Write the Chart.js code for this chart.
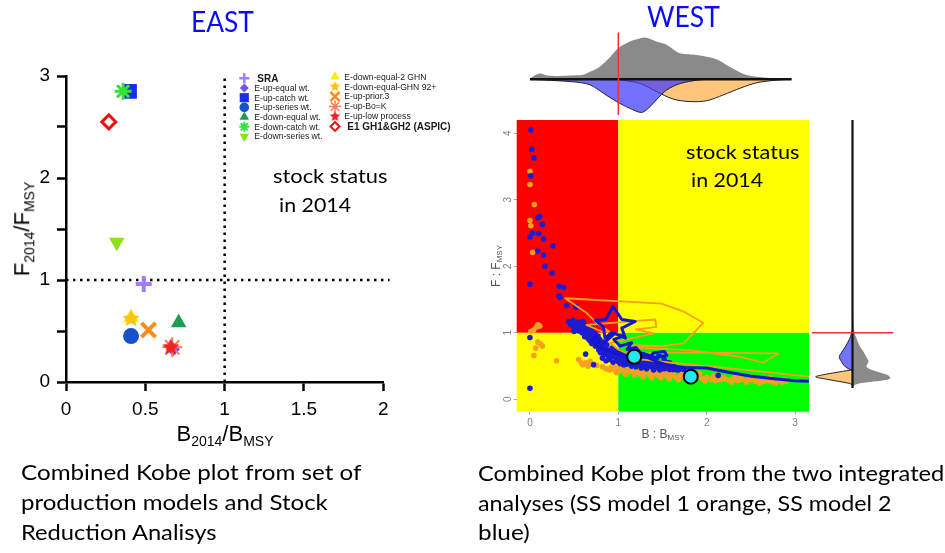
<!DOCTYPE html>
<html>
<head>
<meta charset="utf-8">
<script src="https://cdn.jsdelivr.net/npm/chart.js@4.4.1/dist/chart.umd.min.js"></script>
<style>
  html, body { margin: 0; padding: 0; background: #fff; }
  #stage { position: relative; width: 945px; height: 553px; overflow: hidden; background: #fff; }
  #stage canvas { position: absolute; left: 0; top: 0; }
  .t { position: absolute; left: 0; top: 0; white-space: nowrap; line-height: 1; transform-origin: 0 0; }
  .cal { font-family: "Lato", "Open Sans", sans-serif; color: #000; }
  .ttl { font-family: "Lato", "Open Sans", sans-serif; color: #0a0aff; font-size: 28px; }
  .ax { font-family: "Liberation Sans", Arial, sans-serif; color: #000; font-size: 22px; }
  .ax sub { font-size: 14px; vertical-align: -5px; line-height: 0; }
  .wax { font-family: "Liberation Sans", Arial, sans-serif; color: #555; font-size: 12px; }
  .wax sub { font-size: 8px; vertical-align: -2px; line-height: 0; }
</style>
</head>
<body>
<div id="stage">
  <canvas id="east" width="945" height="553"></canvas>
  <canvas id="westMain" width="945" height="553"></canvas>
  <canvas id="westTop" width="945" height="553"></canvas>
  <canvas id="westSide" width="945" height="553"></canvas>

  <div class="t ttl" data-cx="222" data-base="32" data-w="63">EAST</div>
  <div class="t ttl" data-cx="683" data-base="27" data-w="73">WEST</div>

  <div class="t cal" style="font-size:19px" data-x="273" data-base="183" data-w="114">stock status</div>
  <div class="t cal" style="font-size:19px" data-x="279" data-base="212" data-w="72">in 2014</div>
  <div class="t cal" style="font-size:19px" data-x="686" data-base="159" data-w="113">stock status</div>
  <div class="t cal" style="font-size:19px" data-x="691" data-base="187" data-w="72">in 2014</div>

  <div class="t ax" data-cx="225" data-base="441">B<sub>2014</sub>/B<sub>MSY</sub></div>
  <div class="t ax" data-rot="1" data-cx="22" data-cy="229">F<sub>2014</sub>/F<sub>MSY</sub></div>

  <div class="t wax" data-cx="663" data-base="438">B : B<sub>MSY</sub></div>
  <div class="t wax" data-rot="1" data-cx="496" data-cy="266">F : F<sub>MSY</sub></div>

  <div class="t cal" style="font-size:22px" data-x="21" data-base="480" data-w="341">Combined Kobe plot from set of</div>
  <div class="t cal" style="font-size:22px" data-x="21" data-base="510" data-w="307">production models and Stock</div>
  <div class="t cal" style="font-size:22px" data-x="21" data-base="540" data-w="196">Reduction Analisys</div>
  <div class="t cal" style="font-size:22px" data-x="478" data-base="481" data-w="466">Combined Kobe plot from the two integrated</div>
  <div class="t cal" style="font-size:22px" data-x="478" data-base="511" data-w="414">analyses (SS model 1 orange, SS model 2</div>
  <div class="t cal" style="font-size:22px" data-x="478" data-base="540" data-w="52">blue)</div>
</div>

<script>
// ===================== EAST: production models + SRA =====================
const eastSeries = [
  'SRA', 'E-up-equal wt.', 'E-up-catch wt.', 'E-up-series wt.',
  'E-down-equal wt.', 'E-down-catch wt.', 'E-down-series wt.',
  'E-down-equal-2 GHN', 'E-down-equal-GHN 92+', 'E-up-prior.3',
  'E-up-Bo=K', 'E-up-low process', 'E1 GH1&GH2 (ASPIC)'
];
const eastB = [0.49, 0.675, 0.40, 0.41, 0.71, 0.36, 0.32, 0.41, 0.41, 0.52, 0.67, 0.66, 0.27];
const eastF = [0.96, 0.32, 2.85, 0.45, 0.58, 2.85, 1.37, 0.63, 0.62, 0.51, 0.34, 0.34, 2.55];
const eastXTicks = [0, 0.5, 1, 1.5, 2];
const eastYTicks = [0, 0.5, 1, 1.5, 2, 2.5, 3];
const refValue = 1;

// ===================== WEST: two integrated (SS) models =====================
const westXTicks = [0, 1, 2, 3];
const westYTicks = [0, 1, 2, 3, 4];

// SS model 1 (orange): yearly B/Bmsy, F/Fmsy
const ss1Points = [
  [0.00,3.43],[0.00,3.23],[0.05,2.93],[0.00,2.69],[0.01,2.61],[0.03,2.21],
  [0.09,1.12],[0.07,1.08],[0.11,1.10],[0.01,1.02],[0.04,1.04],[0.12,0.83],
  [0.09,0.86],[0.14,0.80],[0.065,0.77],[0.045,0.66],[0.30,0.58],[0.55,0.60],
  [0.58,0.55],[0.63,0.55],[0.68,0.57],[0.72,0.53],[0.755,0.51],[0.82,0.49],
  [0.60,0.52],[0.66,0.50],
  [0.86,0.46],[0.90,0.44],[0.95,0.45],[1.00,0.42],[1.05,0.44],[1.10,0.41],
  [1.15,0.43],[1.20,0.40],[1.25,0.38],[1.30,0.41],[1.35,0.37],[1.40,0.39],
  [1.45,0.36],[1.50,0.38],[1.55,0.35],[1.60,0.37],[1.65,0.34],[1.70,0.36],
  [1.75,0.33],[1.80,0.36],[1.85,0.32],[1.90,0.34],[1.95,0.31],[2.00,0.33],
  [2.05,0.30],[2.10,0.32],[2.15,0.30],[2.20,0.31],[2.25,0.29],[2.30,0.31],
  [2.35,0.28],[2.40,0.30],[2.45,0.28],[2.50,0.29],[2.55,0.27],[2.60,0.29],
  [2.65,0.27],[2.70,0.28],[2.75,0.26],[2.80,0.28],[2.85,0.26],[2.90,0.27],
  [1.02,0.47],[1.12,0.46],[1.22,0.45],[1.32,0.44],[1.42,0.43],[1.52,0.42],
  [1.62,0.41],[1.72,0.40],[1.92,0.39],[2.12,0.37],[2.32,0.35],[2.52,0.33],
  [2.72,0.32],[1.28,0.34],[1.48,0.32],[1.68,0.30],[1.98,0.28],[2.28,0.26],[2.60,0.25],
  [0.92,0.48],[0.98,0.40],[1.08,0.38],[1.18,0.37],[1.27,0.42],[1.38,0.41],
  [1.58,0.40],[1.78,0.38],[1.88,0.36],[2.08,0.35],[2.18,0.33],[2.38,0.32],
  [2.48,0.31],[2.68,0.30],[2.88,0.29],[1.38,0.33],[1.58,0.31],[1.78,0.30],
  [2.10,0.28],[2.45,0.26],[2.78,0.25],[0.96,0.49],[1.14,0.48]
];

// SS model 2 (blue): yearly B/Bmsy, F/Fmsy
const ss2Points = [
  [0.01,4.05],[0.02,3.76],[0.045,3.63],[0.01,3.36],[0.09,2.73],[0.11,2.75],
  [0.14,2.63],[0.03,2.50],[0.00,2.44],[0.10,2.49],[0.155,2.41],[0.26,2.31],
  [0.09,2.23],[0.155,2.17],[0.17,2.00],[0.25,1.90],[0.00,1.73],[0.33,1.70],
  [0.385,1.68],[0.33,1.56],[0.34,1.53],[0.415,1.41],[0.52,1.39],[0.00,0.93],
  [0.63,0.68],[0.00,0.165],[2.13,0.36],[0.72,0.52],[0.50,1.02],
  [0.44,1.17],[0.47,1.15],[0.49,1.19],[0.51,1.13],[0.54,1.16],[0.56,1.11],
  [0.58,1.14],[0.60,1.08],[0.61,1.12],[0.57,1.04],[0.63,1.03],[0.65,0.99],
  [0.67,1.05],[0.69,0.96],[0.71,1.00],[0.66,0.91],[0.62,0.94],[0.73,0.92],
  [0.75,0.87],[0.77,0.95],[0.79,0.84],[0.81,0.79],[0.83,0.86],[0.85,0.77],
  [0.87,0.82],[0.89,0.74],[0.91,0.71],[0.93,0.77],[0.95,0.69],[0.97,0.73],
  [0.99,0.66],[1.01,0.71],[1.03,0.63],[1.05,0.69],[1.07,0.61],[1.09,0.66],
  [1.11,0.59],[1.13,0.67],[1.16,0.57],[1.20,0.60],[1.22,0.55],[1.25,0.62],
  [1.28,0.54],[1.31,0.58],[1.33,0.51],[1.36,0.56],[1.38,0.49],[1.42,0.53],
  [1.45,0.48],[1.48,0.51],[1.52,0.46],[1.55,0.50],[1.58,0.45],[1.62,0.48],
  [1.66,0.45],[1.70,0.46],[0.82,0.62],[0.86,0.58],[0.90,0.60],[0.94,0.56],
  [0.98,0.58],[1.02,0.54],[1.06,0.52],[1.10,0.53],[1.15,0.50],[1.20,0.49],
  [1.26,0.47],[1.32,0.46],[1.40,0.44],[1.47,0.44],[0.88,0.66],[0.92,0.64],
  [1.35,0.63],[1.42,0.61],[1.28,0.67],[1.46,0.66],[1.52,0.60],[1.58,0.55],
  [0.80,0.70],[0.84,0.68],[0.78,0.74],[0.70,0.84],[0.74,0.80],[0.68,0.88],
  [1.00,0.62],[1.04,0.58],[1.12,0.62],
  [0.46,1.12],[0.50,1.09],[0.53,1.07],[0.55,1.03],[0.59,1.00],[0.64,0.96],
  [0.68,0.92],[0.72,0.88],[0.76,0.83],[0.80,0.77],[0.84,0.73],[0.88,0.70],
  [0.92,0.67],[0.96,0.64],[1.00,0.57],[1.04,0.55],[1.08,0.57],[1.14,0.55],
  [1.18,0.55],[1.24,0.53],[1.30,0.52],[1.36,0.50],[1.43,0.48],[1.50,0.47],
  [1.56,0.47],[1.62,0.45],[1.68,0.44],[1.74,0.45],[0.60,1.17],[0.65,1.09],
  [0.70,1.07],[0.74,0.98],[0.79,0.90],[0.86,0.74],[1.18,0.68],[1.22,0.64],
  [1.30,0.63],[1.38,0.58],[1.45,0.56],[1.50,0.53],[1.55,0.55],[1.62,0.52]
];

// Trajectories (median path of each model)
const ss1Path = [
  [3.16,0.34],[2.60,0.42],[2.00,0.50],[1.60,0.55],[1.25,0.60],[1.10,0.66],
  [1.40,0.70],[2.00,0.70],[2.81,0.69],[2.64,0.55],[2.38,0.64],[1.80,0.74],
  [1.25,0.77],[1.05,0.82],[1.50,0.80],[1.74,0.84],[1.96,1.15],[1.74,1.32],
  [1.49,1.44],[0.40,1.52],[0.64,1.30],[0.76,1.14],[0.90,1.02],[0.81,1.02],
  [0.64,1.12],[1.42,1.20],[1.43,1.09],[1.20,1.05],[1.40,0.99],[1.10,0.90],
  [0.90,0.85],[1.00,0.75],[1.18,0.64]
];
const ss2Path = [
  [3.16,0.27],[3.00,0.28],[2.76,0.31],[2.49,0.35],[2.23,0.41],[2.00,0.47],
  [1.75,0.48],[1.60,0.50],[1.45,0.56],[1.35,0.62],[1.40,0.70],[1.52,0.72],
  [1.55,0.66],[1.42,0.63],[1.25,0.70],[1.20,0.78],[1.10,0.75],[1.15,0.85],
  [1.02,0.80],[0.95,0.90],[1.05,0.95],[0.92,1.00],[0.85,0.92],[0.83,1.09],
  [0.74,1.19],[0.86,1.20],[0.94,1.40],[1.04,1.20],[1.19,1.17],[1.04,1.07],
  [1.08,0.92],[0.96,0.99],[0.85,0.86],[0.80,0.80],[0.75,0.95],[0.70,0.90],
  [0.78,0.78],[0.95,0.70],[1.05,0.66],[1.18,0.64]
];
// 2014 status of each model
const status2014 = [[1.18,0.64],[1.82,0.34]];

// Marginal densities along B/Bmsy (upper panel)
const bDensAllB = [0,0.03,0.11,0.20,0.30,0.45,0.60,0.68,0.79,0.91,1.00,1.13,1.25,1.32,1.43,1.55,1.70,1.89,2.11,2.26,2.45,2.68,2.96];
const bDensAll  = [0,0.06,0.14,0.09,0.08,0.09,0.11,0.18,0.30,0.54,0.74,0.90,0.98,0.99,0.90,0.82,0.62,0.58,0.48,0.30,0.10,0.04,0];
const bDensSS2B = [0,0.49,0.68,0.83,0.98,1.13,1.26,1.34,1.43,1.55,1.70,1.89,2.00];
const bDensSS2  = [0,-0.06,-0.13,-0.33,-0.53,-0.69,-0.79,-0.69,-0.49,-0.25,-0.10,-0.02,0];
const bDensSS1B = [1.00,1.06,1.25,1.43,1.62,1.81,2.00,2.19,2.38,2.57,2.79,2.96];
const bDensSS1  = [0,-0.02,-0.10,-0.29,-0.47,-0.53,-0.51,-0.37,-0.21,-0.08,-0.02,0];

// Marginal densities along F/Fmsy (side panel)
const fDensAllF = [1.60,1.17,1.00,0.92,0.80,0.72,0.62,0.57,0.49,0.44,0.40,0.36,0.31,0.27,0.24,0.20,0.17];
const fDensAll  = [0,0.02,0.05,0.10,0.18,0.27,0.36,0.40,0.35,0.50,0.70,0.90,0.94,0.58,0.19,0.02,0];
const fDensSS2F = [1.05,0.98,0.90,0.79,0.70,0.64,0.57,0.49,0.43];
const fDensSS2  = [0,-0.03,-0.08,-0.18,-0.28,-0.33,-0.28,-0.18,0];
const fDensSS1F = [0.45,0.44,0.40,0.34,0.30,0.27,0.24,0.22];
const fDensSS1  = [0,-0.05,-0.45,-0.92,-0.62,-0.35,-0.08,0];

// ----------------------------------------------------------------
const pairs = arr => arr.map(([x, y]) => ({ x, y }));
const zip = (xs, ys) => xs.map((x, i) => ({ x, y: ys[i] }));
const tickList = vals => (scale) => { scale.ticks = vals.map(v => ({ value: v })); };

Chart.defaults.font.family = '"Liberation Sans", Arial, sans-serif';

function starImage(r, color) {
  const s = Math.ceil(2 * r + 2);
  const c = document.createElement('canvas');
  c.width = s; c.height = s;
  const g = c.getContext('2d');
  g.beginPath();
  for (let i = 0; i < 10; i++) {
    const a = -Math.PI / 2 + i * Math.PI / 5;
    const rr = (i % 2) ? r * 0.48 : r;
    g.lineTo(s / 2 + rr * Math.cos(a), s / 2 + rr * Math.sin(a));
  }
  g.closePath();
  g.fillStyle = color;
  g.fill();
  return c;
}

// marker look for each east series (same order as eastSeries)
const eastLook = [
  { c: '#a07cff', s: 'cross',    r: 8,    bw: 4, lr: 5,   lbw: 2.5, z: 4 },
  { c: '#6b55ff', s: 'rectRot',  r: 7,    bw: 0, lr: 4.5, z: 9 },
  { c: '#1c2df2', s: 'rect',     r: 10.5, bw: 0, lr: 6.5, z: 8 },
  { c: '#1553c6', s: 'circle',   r: 8,    bw: 0, lr: 4.8, z: 6 },
  { c: '#1a9d4c', s: 'triangle', r: 9,    bw: 0, lr: 5.5, z: 6 },
  { c: '#2fe33a', s: 'star',     r: 8.5,  bw: 3, lr: 5,   lbw: 2, z: 2 },
  { c: '#8de21a', s: 'triangle', r: 9,    bw: 0, lr: 5.5, z: 6, rot: 180 },
  { c: '#f5ee00', s: 'triangle', r: 9,    bw: 0, lr: 5.5, z: 10 },
  { c: '#ffc20e', s: 'star5',    r: 9,    bw: 0, lr: 5.5, z: 3 },
  { c: '#ff8a1c', s: 'crossRot', r: 10,   bw: 4, lr: 6.5, lbw: 2.5, z: 6 },
  { c: '#ff7b52', s: 'star',     r: 10,   bw: 2, lr: 6,   lbw: 1.5, z: 1 },
  { c: '#ee2222', s: 'star5',    r: 9,    bw: 0, lr: 5.5, z: 0 },
  { c: '#ee1111', s: 'rectRot',  r: 7,    bw: 3, lr: 4.5, lbw: 2, z: 5, fill: '#ffffff' }
];
const styleOf = (look, big) => look.s === 'star5'
  ? starImage(big ? look.r : look.lr, look.c) : look.s;

const eastDatasets = eastSeries.map((name, i) => {
  const k = eastLook[i];
  return {
    label: name,
    data: [{ x: eastB[i], y: eastF[i] }],
    order: k.z,
    pointStyle: styleOf(k, true),
    pointRotation: k.rot || 0,
    pointRadius: k.r,
    pointBackgroundColor: k.fill || k.c,
    pointBorderColor: k.c,
    pointBorderWidth: k.bw,
    showLine: false
  };
});
const dotted = { showLine: true, borderColor: '#000', borderWidth: 2.5, borderDash: [2.5, 4.5],
                 pointRadius: 0, fill: false, order: 20, clip: false };
eastDatasets.push(Object.assign({ label: 'ref B', data: [{ x: refValue, y: 0 }, { x: refValue, y: 3 }] }, dotted));
eastDatasets.push(Object.assign({ label: 'ref F', data: [{ x: 0, y: refValue }, { x: 2.04, y: refValue }] }, dotted));

// legend in two columns, drawn with the dataset markers
const eastLegend = {
  id: 'eastLegend',
  afterDraw(chart) {
    const ctx = chart.ctx;
    const cols = [
      { mx: 244.3, tx: 254.3, y0: 78.3, dy: 9.7, from: 0, to: 7 },
      { mx: 335,   tx: 344.3, y0: 76.7, dy: 9.95, from: 7, to: 13 }
    ];
    cols.forEach(col => {
      for (let i = col.from; i < col.to; i++) {
        const k = eastLook[i];
        const y = col.y0 + (i - col.from) * col.dy;
        ctx.save();
        ctx.fillStyle = k.fill || k.c;
        ctx.strokeStyle = k.c;
        ctx.lineWidth = k.lbw || 1;
        Chart.helpers.drawPoint(ctx, {
          pointStyle: styleOf(k, false), rotation: k.rot || 0,
          radius: k.lr, borderWidth: k.lbw || 0
        }, col.mx, y);
        const bold = (i === 0 || i === 12);
        ctx.fillStyle = '#1a1a1a';
        ctx.textBaseline = 'middle';
        ctx.textAlign = 'left';
        ctx.font = bold ? 'bold 10px "Liberation Sans", Arial, sans-serif'
                        : '8.6px "Liberation Sans", Arial, sans-serif';
        ctx.fillText(eastSeries[i], col.tx + (bold ? 3 : 0), y + 0.5);
        ctx.restore();
      }
    });
  }
};

new Chart(document.getElementById('east'), {
  type: 'scatter',
  data: { datasets: eastDatasets },
  options: {
    responsive: false, animation: false, events: [], devicePixelRatio: 1,
    layout: { padding: { left: 26, top: 76, right: 561.7, bottom: 131 } },
    plugins: { legend: { display: false }, tooltip: { enabled: false } },
    scales: {
      x: {
        type: 'linear', min: 0, max: 2,
        afterFit(s) { s.height = 40; },
        afterBuildTicks: tickList(eastXTicks),
        border: { display: true, color: '#000', width: 2.5 },
        grid: { drawOnChartArea: false, drawTicks: true, tickLength: 9, tickWidth: 2.5, tickColor: '#000' },
        ticks: { color: '#000', font: { size: 19 }, padding: 7, maxRotation: 0, autoSkip: false,
                 callback: v => String(v) }
      },
      y: {
        type: 'linear', min: 0, max: 3,
        afterFit(s) { s.width = 40; },
        afterBuildTicks: tickList(eastYTicks),
        border: { display: true, color: '#000', width: 2.5 },
        grid: { drawOnChartArea: false, drawTicks: true, tickLength: 9, tickWidth: 2.5, tickColor: '#000' },
        ticks: { color: '#000', font: { size: 19 }, padding: 7, autoSkip: false,
                 callback: v => Number.isInteger(v) ? String(v) : '' }
      }
    }
  },
  plugins: [eastLegend]
});

// ===================== WEST main Kobe panel =====================
const westX = { min: -0.15, max: 3.158 };
const westY = { min: -0.186, max: 4.2 };

const kobeQuadrants = {
  id: 'kobeQuadrants',
  beforeDatasetsDraw(chart) {
    const { ctx, chartArea: a, scales: { x, y } } = chart;
    const bx = x.getPixelForValue(refValue);
    const fy = y.getPixelForValue(refValue);
    ctx.save();
    ctx.fillStyle = '#ff0000'; ctx.fillRect(a.left, a.top, bx - a.left, fy - a.top);
    ctx.fillStyle = '#ffff00'; ctx.fillRect(bx, a.top, a.right - bx, fy - a.top);
    ctx.fillStyle = '#ffff00'; ctx.fillRect(a.left, fy, bx - a.left, a.bottom - fy);
    ctx.fillStyle = '#00ff00'; ctx.fillRect(bx, fy, a.right - bx, a.bottom - fy);
    ctx.restore();
  }
};

const line = (data, color, w) => ({ data: pairs(data), showLine: true, borderColor: color, borderWidth: w,
  pointRadius: 0, fill: false, tension: 0, borderJoinStyle: 'round', borderCapStyle: 'round' });

new Chart(document.getElementById('westMain'), {
  type: 'scatter',
  data: {
    datasets: [
      { label: '2014', data: pairs(status2014), pointRadius: 7, pointBackgroundColor: '#25e6f0',
        pointBorderColor: '#000', pointBorderWidth: 2, showLine: false },
      Object.assign({ label: 'SS model 2 path' }, line(ss2Path, '#1414d2', 3)),
      Object.assign({ label: 'SS model 1 path' }, line(ss1Path, '#f5a020', 1.8)),
      { label: 'SS model 2', data: pairs(ss2Points), pointRadius: 2.8, pointBackgroundColor: '#1c1cd0',
        pointBorderWidth: 0, showLine: false },
      { label: 'SS model 1', data: pairs(ss1Points), pointRadius: 2.8, pointBackgroundColor: '#f5a020',
        pointBorderWidth: 0, showLine: false }
    ]
  },
  options: {
    responsive: false, animation: false, events: [], devicePixelRatio: 1,
    layout: { padding: { left: 486.7, top: 120, right: 136, bottom: 111.3 } },
    plugins: { legend: { display: false }, tooltip: { enabled: false } },
    scales: {
      x: {
        type: 'linear', min: westX.min, max: westX.max,
        afterFit(s) { s.height = 30; },
        afterBuildTicks: tickList(westXTicks),
        border: { display: false },
        grid: { drawOnChartArea: false, drawTicks: true, tickLength: 3, tickColor: '#aaa' },
        ticks: { color: '#808080', font: { size: 10 }, padding: 3, maxRotation: 0, autoSkip: false }
      },
      y: {
        type: 'linear', min: westY.min, max: westY.max,
        afterFit(s) { s.width = 30; },
        afterBuildTicks: tickList(westYTicks),
        border: { display: false },
        grid: { drawOnChartArea: false, drawTicks: true, tickLength: 3, tickColor: '#aaa' },
        ticks: { color: '#808080', font: { size: 10 }, padding: 3, minRotation: 90, maxRotation: 90,
                 crossAlign: 'center', autoSkip: false }
      }
    }
  },
  plugins: [kobeQuadrants]
});

// ===================== WEST upper marginal (B/Bmsy) =====================
const area = (xs, ys, fillColor, edge) => ({
  data: zip(xs, ys), showLine: true, fill: 'shape', backgroundColor: fillColor,
  borderColor: edge || 'rgba(0,0,0,0)', borderWidth: edge ? 1 : 0, pointRadius: 0, tension: 0.3
});

new Chart(document.getElementById('westTop'), {
  type: 'scatter',
  data: {
    datasets: [
      { label: 'Bmsy', data: [{ x: refValue, y: 1.12 }, { x: refValue, y: -0.85 }], showLine: true,
        borderColor: '#ff2a2a', borderWidth: 1.5, pointRadius: 0 },
      { label: 'base', data: [{ x: 0, y: 0 }, { x: 2.96, y: 0 }], showLine: true,
        borderColor: '#111', borderWidth: 2.5, pointRadius: 0 },
      Object.assign({ label: 'SS model 2' }, area(bDensSS2B, bDensSS2, 'rgba(60,60,255,0.72)', '#222')),
      Object.assign({ label: 'SS model 1' }, area(bDensSS1B, bDensSS1, '#fdc67c', '#222')),
      Object.assign({ label: 'combined' }, area(bDensAllB, bDensAll, '#8a8a8a'))
    ]
  },
  options: {
    responsive: false, animation: false, events: [], devicePixelRatio: 1,
    layout: { padding: { left: 516.7, top: 32.3, right: 136, bottom: 431.7 } },
    plugins: { legend: { display: false }, tooltip: { enabled: false } },
    scales: {
      x: { type: 'linear', min: westX.min, max: westX.max, display: false },
      y: { type: 'linear', min: -1, max: 1.12, display: false }
    }
  }
});

// ===================== WEST side marginal (F/Fmsy) =====================
new Chart(document.getElementById('westSide'), {
  type: 'scatter',
  data: {
    datasets: [
      { label: 'Fmsy', data: [{ x: -1.02, y: refValue }, { x: 1.02, y: refValue }], showLine: true,
        borderColor: '#ff2a2a', borderWidth: 1.5, pointRadius: 0 },
      { label: 'axis', data: [{ x: 0, y: westY.max }, { x: 0, y: 0.17 }], showLine: true,
        borderColor: '#111', borderWidth: 2.2, pointRadius: 0 },
      Object.assign({ label: 'SS model 2' }, area(fDensSS2, fDensSS2F, 'rgba(60,60,255,0.72)', '#222')),
      Object.assign({ label: 'SS model 1' }, area(fDensSS1, fDensSS1F, '#fdc67c', '#222')),
      Object.assign({ label: 'combined' }, area(fDensAll, fDensAllF, '#8a8a8a'))
    ]
  },
  options: {
    responsive: false, animation: false, events: [], devicePixelRatio: 1,
    layout: { padding: { left: 811.7, top: 120, right: 51.7, bottom: 141.3 } },
    plugins: { legend: { display: false }, tooltip: { enabled: false } },
    scales: {
      x: { type: 'linear', min: -1.02, max: 1.02, display: false },
      y: { type: 'linear', min: westY.min, max: westY.max, display: false }
    }
  }
});

// ===================== text placement =====================
function baselineOf(el) {
  const p = document.createElement('span');
  p.style.cssText = 'display:inline-block;width:0;height:0;vertical-align:baseline';
  el.appendChild(p);
  const b = p.offsetTop;
  el.removeChild(p);
  return b;
}
document.querySelectorAll('[data-base]').forEach(el => {
  const w0 = el.offsetWidth;
  const tw = el.dataset.w ? +el.dataset.w : w0;
  const b = baselineOf(el);
  el.style.top = (+el.dataset.base - b) + 'px';
  const left = el.dataset.cx !== undefined ? (+el.dataset.cx - tw / 2) : +el.dataset.x;
  el.style.left = left + 'px';
  el.style.transform = 'scaleX(' + (tw / w0) + ')';
});
document.querySelectorAll('[data-rot]').forEach(el => {
  const w = el.offsetWidth, h = el.offsetHeight;
  el.style.left = (+el.dataset.cx - w / 2) + 'px';
  el.style.top = (+el.dataset.cy - h / 2) + 'px';
  el.style.transformOrigin = '50% 50%';
  el.style.transform = 'rotate(-90deg)';
});
</script>
</body>
</html>
